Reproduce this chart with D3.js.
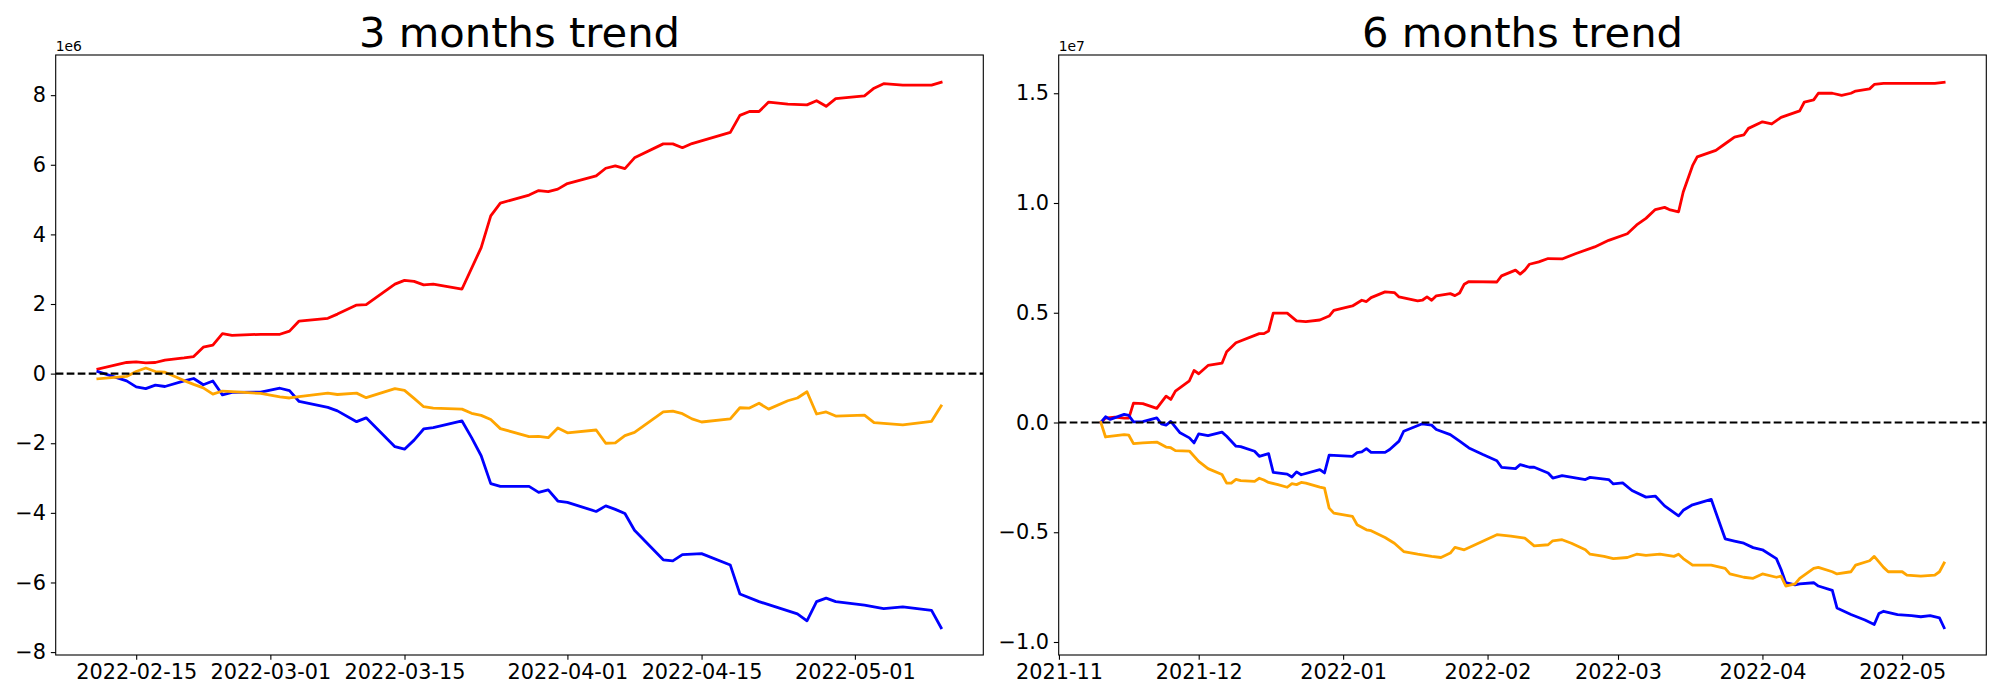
<!DOCTYPE html>
<html><head><meta charset="utf-8">
<script src="https://cdn.jsdelivr.net/npm/d3@7"></script>
<style>body{margin:0;background:#fff} svg{display:block}</style>
</head><body>
<svg id="chart" width="2000" height="700"></svg>
<script>
// ---- data ----
const titles = ["3 months trend", "6 months trend"];
const startDates = ["2022-02-11", "2021-11-10"];   // day 0 of each panel
const offsetLabels = ["1e6", "1e7"];
const xTicksLeft = ["2022-02-15","2022-03-01","2022-03-15","2022-04-01","2022-04-15","2022-05-01"];
const xTicksRight = ["2021-11-01","2021-12-01","2022-01-01","2022-02-01","2022-03-01","2022-04-01","2022-05-01"];
const yTicksLeft = [-8,-6,-4,-2,0,2,4,6,8];
const yTicksRight = [-1.0,-0.5,0.0,0.5,1.0,1.5];

// [day offset, value] ; left panel in units of 1e6, right panel in 1e7
const redLeft = [[0,0.13],[3,0.32],[4,0.34],[5,0.31],[6,0.32],[7,0.39],[9,0.45],[10,0.49],[11,0.76],[12,0.82],[13,1.15],[14,1.1],[17,1.13],[19,1.13],[20,1.22],[21,1.51],[24,1.59],[25,1.71],[27,1.97],[28,1.98],[31,2.57],[32,2.68],[33,2.65],[34,2.55],[35,2.57],[38,2.43],[40,3.62],[41,4.53],[42,4.9],[45,5.13],[46,5.26],[47,5.23],[48,5.3],[49,5.46],[52,5.68],[53,5.9],[54,5.97],[55,5.89],[56,6.2],[59,6.6],[60,6.6],[61,6.49],[62,6.61],[66,6.93],[67,7.42],[68,7.53],[69,7.53],[70,7.8],[72,7.74],[74,7.72],[75,7.84],[76,7.68],[77,7.9],[80,7.98],[81,8.2],[82,8.33],[84,8.29],[87,8.29],[88,8.37]];
const blueLeft = [[0,0.06],[3,-0.21],[4,-0.38],[5,-0.43],[6,-0.33],[7,-0.37],[9,-0.21],[10,-0.14],[11,-0.32],[12,-0.21],[13,-0.61],[14,-0.54],[17,-0.53],[19,-0.42],[20,-0.49],[21,-0.8],[24,-0.97],[25,-1.07],[27,-1.38],[28,-1.27],[31,-2.1],[32,-2.17],[33,-1.91],[34,-1.59],[35,-1.55],[38,-1.36],[39,-1.84],[40,-2.36],[41,-3.16],[42,-3.24],[45,-3.24],[46,-3.41],[47,-3.34],[48,-3.66],[49,-3.7],[52,-3.96],[53,-3.8],[54,-3.9],[55,-4.02],[56,-4.5],[59,-5.35],[60,-5.38],[61,-5.2],[63,-5.17],[66,-5.5],[67,-6.33],[69,-6.55],[73,-6.9],[74,-7.1],[75,-6.55],[76,-6.45],[77,-6.55],[80,-6.65],[82,-6.75],[84,-6.7],[87,-6.8],[88,-7.3]];
const orangeLeft = [[0,-0.15],[3,-0.08],[4,0.06],[5,0.16],[6,0.06],[7,0.04],[9,-0.2],[10,-0.31],[11,-0.41],[12,-0.59],[13,-0.5],[14,-0.52],[17,-0.57],[19,-0.67],[20,-0.7],[21,-0.66],[24,-0.56],[25,-0.6],[27,-0.56],[28,-0.69],[31,-0.43],[32,-0.48],[33,-0.71],[34,-0.95],[35,-0.99],[38,-1.02],[39,-1.14],[40,-1.2],[41,-1.32],[42,-1.58],[45,-1.81],[46,-1.8],[47,-1.84],[48,-1.56],[49,-1.7],[52,-1.62],[53,-2.0],[54,-1.99],[55,-1.78],[56,-1.69],[59,-1.1],[60,-1.08],[61,-1.15],[62,-1.3],[63,-1.39],[66,-1.3],[67,-0.98],[68,-0.99],[69,-0.85],[70,-1.02],[72,-0.78],[73,-0.7],[74,-0.52],[75,-1.16],[76,-1.1],[77,-1.22],[80,-1.19],[81,-1.41],[84,-1.47],[87,-1.37],[88,-0.93]];

const redRight = [[0,0],[1,0.02],[3,0.024],[5,0.02],[6,0.02],[7,0.088],[9,0.086],[12,0.064],[14,0.12],[15,0.105],[16,0.143],[19,0.19],[20,0.237],[21,0.222],[23,0.26],[26,0.27],[27,0.322],[29,0.363],[34,0.405],[35,0.405],[36,0.417],[37,0.498],[40,0.498],[42,0.463],[44,0.46],[47,0.467],[49,0.485],[50,0.511],[54,0.531],[56,0.557],[57,0.551],[58,0.569],[61,0.595],[63,0.592],[64,0.572],[68,0.554],[69,0.557],[70,0.572],[71,0.557],[72,0.577],[75,0.587],[76,0.578],[77,0.59],[78,0.63],[79,0.642],[85,0.64],[86,0.668],[89,0.694],[90,0.676],[91,0.694],[92,0.721],[94,0.732],[96,0.747],[99,0.745],[102,0.77],[106,0.8],[109,0.83],[113,0.86],[115,0.9],[117,0.93],[119,0.97],[121,0.98],[122,0.97],[124,0.96],[125,1.05],[127,1.17],[128,1.21],[132,1.24],[134,1.27],[136,1.3],[138,1.31],[139,1.34],[142,1.37],[144,1.36],[146,1.39],[150,1.42],[151,1.46],[153,1.47],[154,1.5],[157,1.5],[159,1.49],[161,1.5],[162,1.51],[165,1.52],[166,1.54],[168,1.545],[172,1.545],[179,1.545],[181,1.55]];
const blueRight = [[0,0],[1,0.026],[2,0.014],[5,0.037],[6,0.032],[7,0.003],[9,0.004],[12,0.021],[13,-0.006],[14,-0.012],[15,0.005],[17,-0.047],[19,-0.07],[20,-0.093],[21,-0.052],[23,-0.06],[26,-0.044],[27,-0.063],[29,-0.108],[30,-0.11],[33,-0.131],[34,-0.154],[36,-0.142],[37,-0.227],[40,-0.235],[41,-0.248],[42,-0.225],[43,-0.238],[47,-0.215],[48,-0.23],[49,-0.149],[54,-0.154],[55,-0.137],[56,-0.134],[57,-0.119],[58,-0.136],[61,-0.136],[62,-0.123],[64,-0.085],[65,-0.04],[69,-0.006],[71,-0.012],[72,-0.032],[75,-0.055],[77,-0.085],[79,-0.116],[82,-0.146],[85,-0.174],[86,-0.204],[89,-0.21],[90,-0.192],[92,-0.204],[93,-0.204],[96,-0.23],[97,-0.253],[99,-0.242],[104,-0.26],[105,-0.25],[109,-0.26],[110,-0.28],[112,-0.275],[114,-0.31],[117,-0.34],[119,-0.335],[121,-0.38],[124,-0.425],[125,-0.4],[127,-0.375],[131,-0.35],[132,-0.41],[134,-0.53],[136,-0.54],[138,-0.55],[140,-0.57],[142,-0.58],[145,-0.62],[146,-0.67],[147,-0.73],[149,-0.74],[150,-0.735],[153,-0.73],[154,-0.745],[157,-0.765],[158,-0.845],[161,-0.875],[164,-0.9],[166,-0.92],[167,-0.87],[168,-0.86],[171,-0.875],[174,-0.88],[176,-0.885],[178,-0.88],[180,-0.89],[181,-0.935]];
const orangeRight = [[0,0],[1,-0.066],[5,-0.055],[6,-0.058],[7,-0.096],[9,-0.093],[12,-0.089],[14,-0.112],[15,-0.115],[16,-0.128],[19,-0.13],[21,-0.177],[23,-0.21],[26,-0.237],[27,-0.276],[28,-0.276],[29,-0.259],[30,-0.265],[33,-0.268],[34,-0.254],[35,-0.262],[36,-0.273],[38,-0.283],[40,-0.295],[41,-0.279],[42,-0.283],[43,-0.273],[44,-0.276],[47,-0.294],[48,-0.299],[49,-0.39],[50,-0.413],[54,-0.428],[55,-0.466],[57,-0.489],[58,-0.493],[61,-0.524],[63,-0.55],[65,-0.588],[68,-0.6],[71,-0.61],[73,-0.615],[75,-0.595],[76,-0.569],[78,-0.58],[85,-0.511],[88,-0.518],[91,-0.527],[93,-0.562],[96,-0.557],[97,-0.539],[99,-0.534],[101,-0.55],[104,-0.58],[105,-0.6],[108,-0.61],[110,-0.62],[113,-0.615],[115,-0.6],[117,-0.605],[120,-0.6],[123,-0.61],[124,-0.6],[125,-0.62],[127,-0.65],[131,-0.65],[134,-0.665],[135,-0.69],[138,-0.705],[140,-0.71],[142,-0.69],[145,-0.705],[146,-0.7],[147,-0.745],[149,-0.735],[150,-0.71],[153,-0.665],[154,-0.66],[157,-0.68],[158,-0.69],[161,-0.68],[162,-0.65],[165,-0.63],[166,-0.61],[168,-0.66],[169,-0.68],[172,-0.68],[173,-0.695],[176,-0.7],[179,-0.695],[180,-0.68],[181,-0.64]];

const seriesColors = ["#ff0000", "#0000ff", "#ffa500"];

(function () {
  const svg = d3.select("#chart");
  const plotTop = 55, plotBottom = 655;
  const panels = [
    {x0: 55.7, x1: 983.3, series: [redLeft, blueLeft, orangeLeft], xticks: xTicksLeft, xfmt: "%Y-%m-%d", yticks: yTicksLeft, yfmt: d3.format("d")},
    {x0: 1058.7, x1: 1986.3, series: [redRight, blueRight, orangeRight], xticks: xTicksRight, xfmt: "%Y-%m", yticks: yTicksRight, yfmt: d3.format(".1f")}
  ];
  const parse = d3.utcParse("%Y-%m-%d");
  const FONT = "DejaVu Sans, sans-serif";

  panels.forEach((p, i) => {
    const start = parse(startDates[i]);
    const toDate = d => new Date(+start + d * 864e5);
    const all = p.series.flat();
    const dExt = d3.extent(all, d => d[0]);
    const vExt = d3.extent(all, d => d[1]);
    const dPad = (dExt[1] - dExt[0]) * 0.05;
    const vPad = (vExt[1] - vExt[0]) * 0.05;
    const x = d3.scaleUtc().domain([toDate(dExt[0] - dPad), toDate(dExt[1] + dPad)]).range([p.x0, p.x1]);
    const y = d3.scaleLinear().domain([vExt[0] - vPad, vExt[1] + vPad]).range([plotBottom, plotTop]);

    const g = svg.append("g");
    const clipId = "clip" + i;
    svg.append("clipPath").attr("id", clipId).append("rect")
      .attr("x", p.x0).attr("y", plotTop).attr("width", p.x1 - p.x0).attr("height", plotBottom - plotTop);

    const line = d3.line().x(d => x(toDate(d[0]))).y(d => y(d[1]));
    const lines = g.append("g").attr("clip-path", `url(#${clipId})`);
    p.series.forEach((s, k) => {
      lines.append("path").datum(s).attr("d", line)
        .attr("fill", "none").attr("stroke", seriesColors[k])
        .attr("stroke-width", 2.8).attr("stroke-linejoin", "round").attr("stroke-linecap", "square");
    });
    lines.append("line").attr("x1", p.x0).attr("x2", p.x1).attr("y1", y(0)).attr("y2", y(0))
      .attr("stroke", "#000").attr("stroke-width", 2.08).attr("stroke-dasharray", "7.7,3.3");

    const xAxis = d3.axisBottom(x).tickValues(p.xticks.map(parse))
      .tickFormat(d3.utcFormat(p.xfmt)).tickSize(4.86).tickPadding(4.86);
    const gx = g.append("g").attr("transform", `translate(0,${plotBottom})`).call(xAxis);
    const yAxis = d3.axisLeft(y).tickValues(p.yticks).tickFormat(p.yfmt).tickSize(4.86).tickPadding(4.86);
    const gy = g.append("g").attr("transform", `translate(${p.x0},0)`).call(yAxis);
    [gx, gy].forEach(a => {
      a.select(".domain").remove();
      a.selectAll(".tick line").attr("stroke", "#000").attr("stroke-width", 1.1);
      a.selectAll(".tick text").attr("fill", "#000").style("font-family", FONT).style("font-size", "20.8px");
    });

    g.append("rect").attr("x", p.x0).attr("y", plotTop).attr("width", p.x1 - p.x0).attr("height", plotBottom - plotTop)
      .attr("fill", "none").attr("stroke", "#000").attr("stroke-width", 1.1);

    g.append("text").attr("x", (p.x0 + p.x1) / 2).attr("y", 46.7).attr("text-anchor", "middle")
      .style("font-family", FONT).style("font-size", "41.7px").attr("fill", "#000").text(titles[i]);
    g.append("text").attr("x", p.x0).attr("y", 51).attr("text-anchor", "start")
      .style("font-family", FONT).style("font-size", "13.9px").attr("fill", "#000").text(offsetLabels[i]);
  });
})();
</script>
</body></html>
